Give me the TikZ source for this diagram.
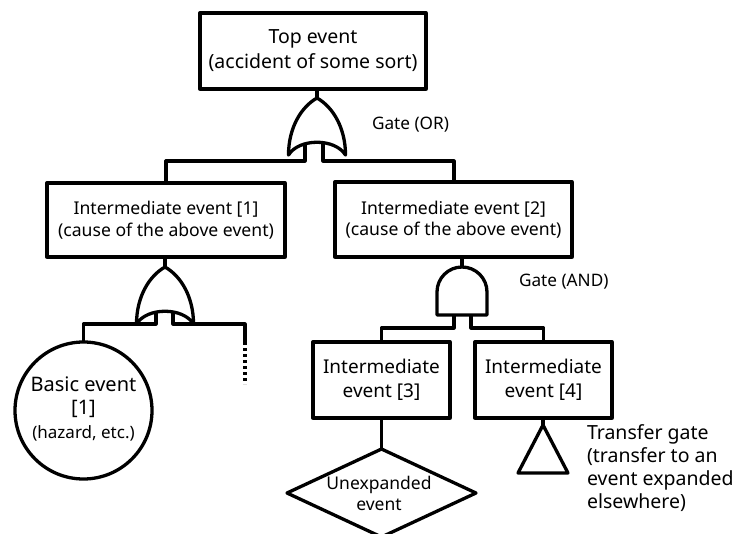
\documentclass[tikz,border=0pt]{standalone}
\usepackage{fontspec}
\setmainfont{Noto Sans}
\usetikzlibrary{shapes.geometric}
\begin{document}
\begin{tikzpicture}[x=1pt,y=-1pt,line join=round,
  every node/.style={inner sep=0pt,outer sep=0pt},
  eventbox/.style={draw,line width=3.3pt,rectangle,align=center},
  wire/.style={line width=3.2pt},
  gateline/.style={line width=3.3pt},
  txt/.style={font=\fontsize{17.6}{21.5}\selectfont},
  pics/orgate/.style={code={
    \draw[gateline] (-28.5,57) .. controls (-28.5,30) and (-16,9) .. (0,0)
      .. controls (16,9) and (28.5,30) .. (28.5,57)
      .. controls (18,40) and (-18,40) .. cycle;
  }},
  pics/andgate/.style={code={
    \draw[gateline] (-25,48) -- (-25,25) arc[start angle=180,end angle=360,radius=25]
      -- (25,48) -- cycle;
  }}]
\useasboundingbox (0,0) rectangle (736,533);

% events
\node[eventbox,minimum width=226pt,minimum height=76pt,
      font=\fontsize{19.5}{25}\selectfont] (top) at (313,51)
  {Top event\\(accident of some sort)};
\node[eventbox,minimum width=238pt,minimum height=74pt,txt] (ie1) at (166,220)
  {Intermediate event [1]\\(cause of the above event)};
\node[eventbox,minimum width=237pt,minimum height=75pt,txt] (ie2) at (453.5,219.5)
  {Intermediate event [2]\\(cause of the above event)};
\node[eventbox,minimum width=137pt,minimum height=76pt,
      font=\fontsize{19}{24}\selectfont] (ie3) at (381.5,380)
  {Intermediate\\event [3]};
\node[eventbox,minimum width=137pt,minimum height=76pt,
      font=\fontsize{19}{24}\selectfont] (ie4) at (543.5,380)
  {Intermediate\\event [4]};
\node[draw,circle,line width=3.3pt,minimum size=137pt] (basic) at (83.5,410.5) {};
\node[font=\fontsize{20}{24}\selectfont] (bt1) at (83.5,384) {Basic event};
\node[font=\fontsize{20}{24}\selectfont] (bt2) at (83.5,409) {[1]};
\node[font=\fontsize{17}{20}\selectfont] (bt3) at (83.5,433) {(hazard, etc.)};
\node[draw,diamond,line width=3.3pt,minimum width=189pt,minimum height=88pt]
  (unexp) at (381.5,493) {};
\node[font=\fontsize{17.5}{21}\selectfont,align=center] (ut) at (379,493)
  {Unexpanded\\event};

% gates
\coordinate (or1) at (317,98);
\coordinate (or2) at (165,267);
\coordinate (and1) at (462,267);
\pic at (or1) {orgate};
\pic at (or2) {orgate};
\pic at (and1) {andgate};

% transfer gate
\coordinate (tri) at (543,425);
\draw[gateline] (tri) -- (568,473) -- (518,473) -- cycle;

% gate labels
\node[font=\fontsize{17.2}{20}\selectfont,anchor=west] (lor) at (372,125) {Gate (OR)};
\node[font=\fontsize{17.2}{20}\selectfont,anchor=west] (land) at (519,282) {Gate (AND)};
\node[font=\fontsize{19.5}{23}\selectfont,anchor=west,align=left] (ltr) at (587,468)
  {Transfer gate\\(transfer to an\\event expanded\\elsewhere)};

% stems into gates
\draw[wire] (top.south -| or1) -- (or1);
\draw[wire] (ie1.south -| or2) -- (or2);
\draw[wire] (ie2.south -| and1) -- (and1);
\draw[wire] (ie3.south) -- (unexp.north);
\draw[wire] (ie4.south -| tri) -- (tri);

% buses under the top OR gate
\coordinate (a1) at (305,143);
\coordinate (b1) at (323,143);
\draw[wire] (a1) -- (a1 |- 0,161) -| (ie1.north);
\draw[wire] (b1) -- (b1 |- 0,161) -| (ie2.north -| 454,0);

% buses under the second OR gate
\coordinate (a2) at (156,311);
\coordinate (b2) at (173,311);
\coordinate (more) at (245,342);
\coordinate (moreend) at (245,384);
\draw[wire] (a2) -- (a2 |- 0,324) -| (basic.north);
\draw[wire] (b2) -- (b2 |- 0,324) -| (more);
\draw[line width=3.2pt,dash pattern=on 3pt off 3pt] (more) -- (moreend);

% buses under the AND gate
\coordinate (a3) at (454,315);
\coordinate (b3) at (471,315);
\draw[wire] (a3) -- (a3 |- 0,328) -| (ie3.north);
\draw[wire] (b3) -- (b3 |- 0,328) -| (ie4.north);
\end{tikzpicture}
\end{document}
